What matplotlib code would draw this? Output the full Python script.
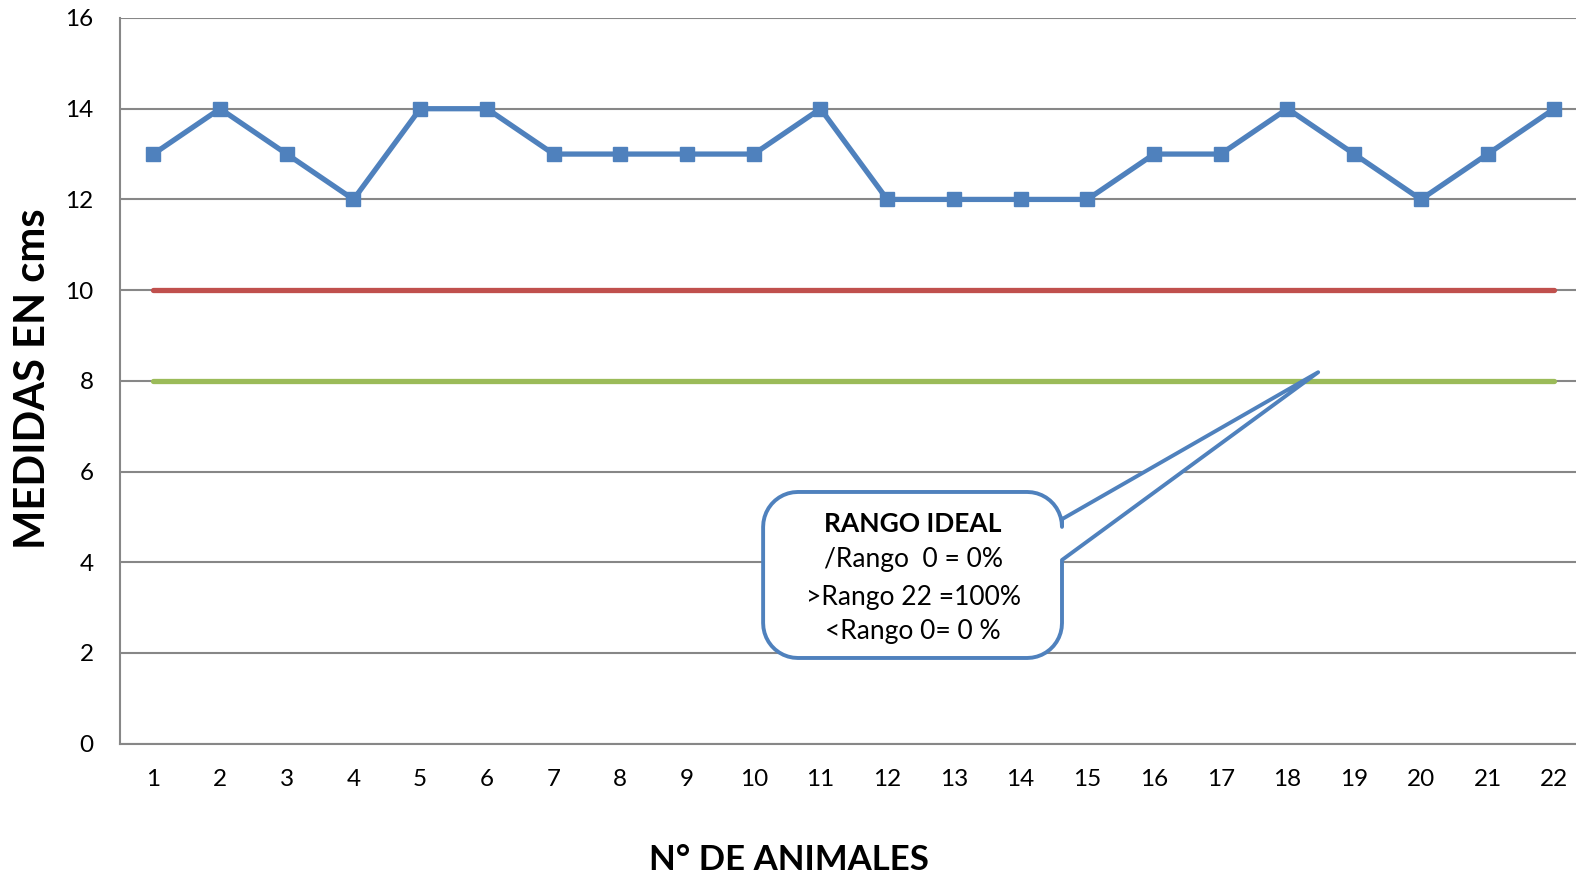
import numpy as np
import matplotlib
matplotlib.use('Agg')
import matplotlib.pyplot as plt
from matplotlib.path import Path
from matplotlib.patches import PathPatch

# data
animales = [str(i) for i in range(1, 23)]
medidas = [13, 14, 13, 12, 14, 14, 13, 13, 13, 13, 14, 12, 12, 12, 12, 13, 13, 14, 13, 12, 13, 14]
limite_sup = 10
limite_inf = 8
callout_lines = ['RANGO IDEAL', '/Rango  0 = 0%', '>Rango 22 =100%', '<Rango 0= 0 %']

BLUE = '#4F81BD'
RED = '#C0504D'
GREEN = '#9BBB59'
GRAY = '#878787'

plt.rcParams['font.family'] = ['Lato', 'DejaVu Sans']

fig = plt.figure(figsize=(15.76, 8.77), dpi=100)
W, H = 1576.0, 877.0
left, top, bottom, right = 120.0, 18.0, 743.7, 1587.7
ax = fig.add_axes([left / W, 1 - bottom / H, (right - left) / W, (bottom - top) / H])

x = np.arange(len(animales))
ax.plot(x, [limite_sup] * len(x), color=RED, lw=3.8, solid_capstyle='round', zorder=3)
ax.plot(x, [limite_inf] * len(x), color=GREEN, lw=3.8, solid_capstyle='round', zorder=3)
ax.plot(x, medidas, color=BLUE, lw=3.8, marker='s', markersize=10.5, zorder=4)

ax.set_xlim(-0.5, len(x) - 0.5)
ax.set_ylim(0, 16)
ax.set_yticks(range(0, 17, 2))
ax.set_xticks(x)
ax.set_xticklabels(animales)
ax.yaxis.grid(True, color=GRAY, lw=1.5)
ax.set_axisbelow(True)
for s in ['top', 'right']:
    ax.spines[s].set_visible(False)
for s in ['left', 'bottom']:
    ax.spines[s].set_color(GRAY)
    ax.spines[s].set_linewidth(1.5)
ax.tick_params(axis='both', length=0, labelsize=17.5, colors='black')
ax.tick_params(axis='y', pad=19)
ax.tick_params(axis='x', pad=18)

# callout bubble with pointer
x0, x1, y0, y1 = 9.14, 13.62, 1.89, 5.55
rx, ry = 0.52, 0.77
tip = (17.46, 8.19)
pb_top, pb_bot = 4.95, 4.05


def arc(cx, cy, a0, a1, n=12):
    t = np.linspace(np.radians(a0), np.radians(a1), n)
    return list(zip(cx + rx * np.cos(t), cy + ry * np.sin(t)))


verts = []
verts += arc(x1 - rx, y1 - ry, 0, 90)
verts += arc(x0 + rx, y1 - ry, 90, 180)
verts += arc(x0 + rx, y0 + ry, 180, 270)
verts += arc(x1 - rx, y0 + ry, 270, 360)
verts += [(x1, pb_bot), tip, (x1, pb_top)]
verts.append(verts[0])
codes = [Path.MOVETO] + [Path.LINETO] * (len(verts) - 2) + [Path.CLOSEPOLY]
bubble = PathPatch(Path(verts, codes), facecolor='white', edgecolor=BLUE,
                   lw=2.8, joinstyle='round', zorder=5)
ax.add_patch(bubble)

cx = 11.39
ys = [(bottom - py) / ((bottom - top) / 16) for py in [524, 560, 597, 632]]
for i, (txt, yy) in enumerate(zip(callout_lines, ys)):
    ax.text(cx, yy, txt, ha='center', va='center', fontsize=19,
            fontweight='bold' if i == 0 else 'normal', zorder=6)

fig.text(33 / W, 1 - 379 / H, 'MEDIDAS EN cms', rotation=90, ha='center', va='center',
         fontsize=30, fontweight='bold')
fig.text(789 / W, 1 - 860 / H, 'N° DE ANIMALES', ha='center', va='center',
         fontsize=25, fontweight='bold')

fig.savefig('out.png', dpi=100)
